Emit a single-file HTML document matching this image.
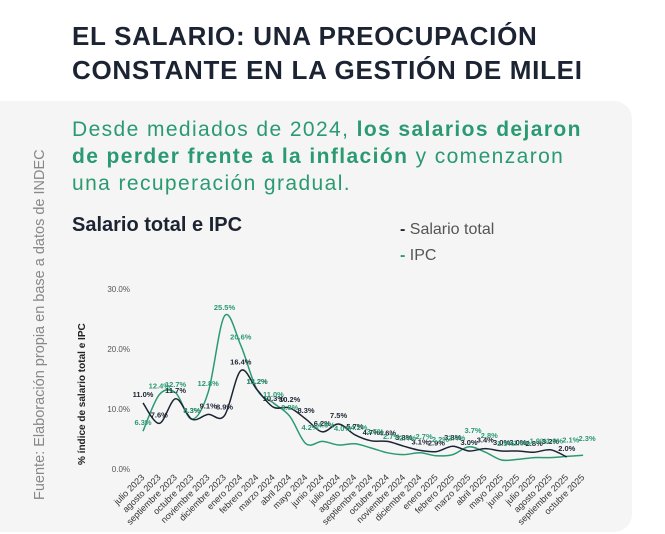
<!DOCTYPE html>
<html><head><meta charset="utf-8"><style>
html,body{margin:0;padding:0;background:#fff;width:665px;height:534px;overflow:hidden;font-family:"Liberation Sans",sans-serif}
.t{position:absolute;left:72px;top:19px;font-size:26px;font-weight:bold;color:#1c2434;line-height:34px;letter-spacing:0.7px;white-space:nowrap}
.panel{position:absolute;left:0;top:101px;width:632px;height:431px;background:#f5f5f5;border-radius:0 18px 18px 0}
.sub{position:absolute;left:72px;top:116px;font-size:21px;color:#2a9a72;line-height:27px;white-space:nowrap;letter-spacing:1.4px}
.sub b{font-weight:bold}
.h{position:absolute;left:72px;top:214px;font-size:20px;font-weight:bold;color:#1c2434}
.lg{position:absolute;left:400px;font-size:16px;color:#555}
.src{position:absolute;left:32px;top:500px;transform:rotate(-90deg);transform-origin:0 0;font-size:14.5px;color:#888;white-space:nowrap}
</style></head><body>
<div class="t">EL SALARIO: UNA PREOCUPACIÓN<br>CONSTANTE EN LA GESTIÓN DE MILEI</div>
<div class="panel"></div>
<div class="sub">Desde mediados de 2024, <b>los salarios dejaron</b><br><b>de perder frente a la inflación</b> y comenzaron<br>una recuperación gradual.</div>
<div class="h">Salario total e IPC</div>
<div class="lg" style="top:221px"><span style="color:#1c2434;font-weight:bold">-</span> Salario total</div>
<div class="lg" style="top:247px"><span style="color:#2a9a72;font-weight:bold">-</span> IPC</div>
<div class="src">Fuente: Elaboración propia en base a datos de INDEC</div>
<svg id="c" width="665" height="534" style="position:absolute;left:0;top:0" font-family="Liberation Sans, sans-serif"></svg>
<script>
const s=document.getElementById('c');let h='';
const X=i=>143+i*16.3, Y=v=>469-v*6;
[0,10,20,30].forEach(v=>{h+=`<text x="130" y="${Y(v)+3}" font-size="8" fill="#555" text-anchor="end">${v.toFixed(1)}%</text>`});
h+=`<text transform="translate(85,465) rotate(-90)" font-size="10" font-weight="bold" fill="#222">% índice de salario total e IPC</text>`;
const m=["julio 2023","agosto 2023","septiembre 2023","octubre 2023","noviembre 2023","diciembre 2023","enero 2024","febrero 2024","marzo 2024","abril 2024","mayo 2024","junio 2024","julio 2024","agosto 2024","septiembre 2024","octubre 2024","noviembre 2024","diciembre 2024","enero 2025","febrero 2025","marzo 2025","abril 2025","mayo 2025","junio 2025","julio 2025","agosto 2025","septiembre 2025","octubre 2025"];
m.forEach((t,i)=>{h+=`<text transform="translate(${X(i)+2},478) rotate(-45)" font-size="9" fill="#333" text-anchor="end">${t}</text>`});
const sal=[11.0,7.6,11.7,8.3,9.1,8.9,16.4,13.2,10.3,10.2,8.3,6.2,7.5,5.7,4.7,4.6,3.8,3.1,2.9,3.8,3.0,3.4,3.0,3.0,2.8,3.2,2.0];
const ipc=[6.3,12.4,12.7,8.3,12.8,25.5,20.6,13.2,11.0,8.8,4.2,4.6,4.0,4.2,3.5,2.7,2.4,2.7,2.2,2.4,3.7,2.8,1.5,1.6,1.9,1.9,2.1,2.3];
function path(a){let p=a.map((v,i)=>[X(i),Y(v)]);let d=`M${p[0]}`;for(let i=0;i<p.length-1;i++){const p0=p[i-1]||p[i],p1=p[i],p2=p[i+1],p3=p[i+2]||p2;d+=`C${p1[0]+(p2[0]-p0[0])/6},${p1[1]+(p2[1]-p0[1])/6} ${p2[0]-(p3[0]-p1[0])/6},${p2[1]-(p3[1]-p1[1])/6} ${p2[0]},${p2[1]}`}return d}
h+=`<path d="${path(ipc)}" fill="none" stroke="#2a9a72" stroke-width="1.5"/>`;
h+=`<path d="${path(sal)}" fill="none" stroke="#1c2434" stroke-width="1.5"/>`;
sal.forEach((v,i)=>{h+=`<text x="${X(i)}" y="${Y(v)-6}" font-size="7.5" font-weight="bold" fill="#1c2434" text-anchor="middle">${v.toFixed(1)}%</text>`});
ipc.forEach((v,i)=>{h+=`<text x="${X(i)+(i>9?4:0)}" y="${Y(v)+(i>9?-14:-6)}" font-size="7.5" font-weight="bold" fill="#2a9a72" text-anchor="middle">${v.toFixed(1)}%</text>`});
s.innerHTML=h;
</script>
</body></html>
